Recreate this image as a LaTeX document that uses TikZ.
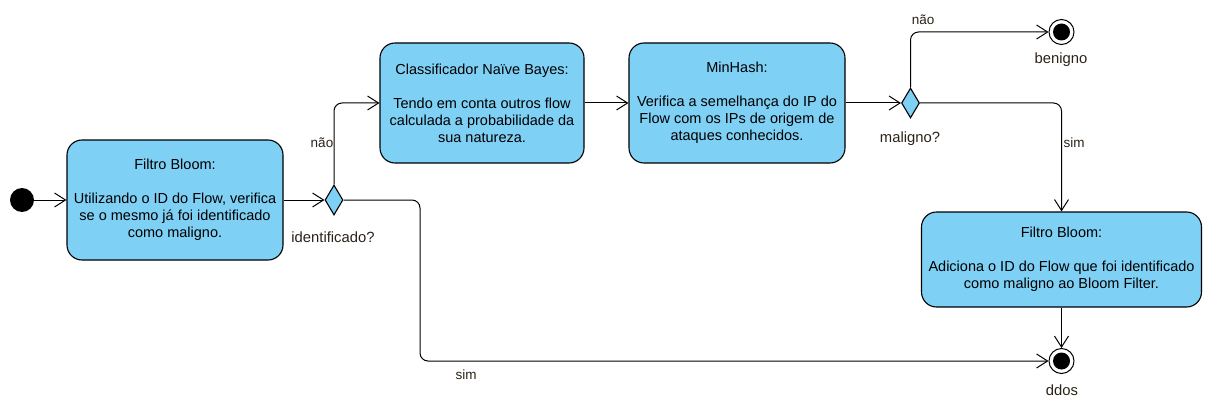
\documentclass[tikz,border=0pt]{standalone}
\usepackage{fontspec}
\setmainfont{Liberation Sans}
\usetikzlibrary{shapes.geometric,arrows.meta}
\definecolor{boxfill}{HTML}{7FD0F5}
\definecolor{lbl}{HTML}{2B2218}
\begin{document}
\begin{tikzpicture}[x=1pt,y=-1pt,
  every node/.style={font=\fontsize{14.5}{17}\selectfont},
  stbox/.style={draw=black, line width=1.1pt, fill=boxfill, rounded corners=15pt, align=center, inner sep=0pt},
  dec/.style={diamond, draw=black, line width=1.1pt, fill=boxfill, inner sep=0pt, minimum width=18pt, minimum height=30pt, aspect=0.6},
  endst/.style={circle, draw=black, line width=1pt, fill=white, minimum size=25pt, inner sep=0pt,
     path picture={\fill[black] (path picture bounding box.center) circle (8.5pt);}},
  conn/.style={draw=black, line width=1pt, -{Straight Barb[length=11pt,width=14pt,line width=1pt]}},
  lab/.style={text=lbl, font=\fontsize{13.5}{15}\selectfont},
  lab2/.style={text=lbl, font=\fontsize{14.8}{16}\selectfont}
]
\useasboundingbox (0,0) rectangle (1220,409);
\node[circle, fill=black, minimum size=24pt, inner sep=0pt] (start) at (22,200) {};
\node[stbox, minimum width=216pt, minimum height=120pt] (b1) at (175,200)
  {Filtro Bloom:\\[17pt]Utilizando o ID do Flow, verifica\\se o mesmo já foi identificado\\como maligno.};
\node[dec] (d1) at (334,200) {};
\node[stbox, minimum width=204pt, minimum height=120pt] (b2) at (482,103)
  {Classificador Naïve Bayes:\\[17pt]Tendo em conta outros flow\\calculada a probabilidade da\\sua natureza.};
\node[stbox, minimum width=216pt, minimum height=120pt] (b3) at (737,103)
  {MinHash:\\[17pt]Verifica a semelhança do IP do\\Flow com os IPs de origem de\\ataques conhecidos.};
\node[dec] (d2) at (910.5,103) {};
\node[endst] (ben) at (1061.5,32) {};
\node[stbox, minimum width=280pt, minimum height=95pt] (b4) at (1061.5,259.5)
  {Filtro Bloom:\\[17pt]Adiciona o ID do Flow que foi identificado\\como maligno ao Bloom Filter.};
\node[endst] (ddos) at (1061.5,361) {};
\coordinate (c1) at (420,361);

\draw[conn] (start) -- (b1);
\draw[conn] (b1) -- (d1);
\draw[conn, rounded corners=8pt] (d1.north) |- (b2.west);
\draw[conn] (b2) -- (b3);
\draw[conn] (b3) -- (d2);
\draw[conn, rounded corners=8pt] (d2.north) |- (ben.west);
\draw[conn, rounded corners=8pt] (d2.east) -| (b4.north);
\draw[conn] (b4) -- (ddos);
\draw[conn, rounded corners=8pt] (d1.east) -| (c1) -- (ddos.west);

\node[lab] (l1) at (322,143) {não};
\node[lab2] (l2) at (333,237) {identificado?};
\node[lab] (l3) at (923,20) {não};
\node[lab2] (l4) at (910,139) {maligno?};
\node[lab] (l5) at (1074,143) {sim};
\node[lab] (l6) at (466,375) {sim};
\node[lab2] (l7) at (1061,60) {benigno};
\node[lab2] (l8) at (1062,390) {ddos};
\end{tikzpicture}
\end{document}
